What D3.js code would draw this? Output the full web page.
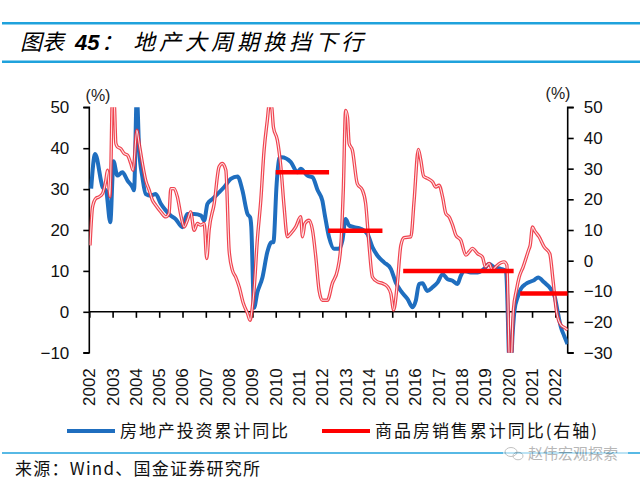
<!DOCTYPE html>
<html><head><meta charset="utf-8">
<script src="https://cdn.jsdelivr.net/npm/d3@7/dist/d3.min.js"></script>
<style>body{margin:0;background:#fff} svg{display:block}</style>
</head><body>
<svg id="c" width="640" height="485"></svg>
<script>
// ---------- data ----------
const yearLabels = ["2002","2003","2004","2005","2006","2007","2008","2009","2010","2011","2012","2013","2014","2015","2016","2017","2018","2019","2020","2021","2022"];
const leftTicks = [-10, 0, 10, 20, 30, 40, 50];
const rightTicks = [-30, -20, -10, 0, 10, 20, 30, 40, 50];

// 房地产投资累计同比 (left axis), time in decimal years
const invTime = [2002.08,2002.25,2002.57,2002.72,2002.9,2003.04,2003.2,2003.42,2003.64,2003.85,2003.92,2004.04,2004.14,2004.28,2004.42,2004.64,2004.85,2005.07,2005.28,2005.5,2005.7,2006.0,2006.2,2006.5,2006.8,2006.93,2007.07,2007.29,2007.5,2007.79,2008.07,2008.36,2008.57,2008.79,2008.9,2008.95,2009.07,2009.21,2009.43,2009.64,2009.82,2009.9,2010.04,2010.15,2010.25,2010.65,2010.93,2011.07,2011.36,2011.58,2011.8,2012.0,2012.1,2012.29,2012.5,2012.72,2012.86,2013.0,2013.15,2013.36,2013.65,2013.94,2014.15,2014.37,2014.65,2014.94,2015.15,2015.37,2015.66,2015.87,2016.01,2016.15,2016.3,2016.5,2016.73,2016.95,2017.16,2017.37,2017.59,2017.8,2017.94,2018.09,2018.37,2018.66,2018.94,2019.16,2019.37,2019.66,2019.88,2020.06,2020.17,2020.25,2020.38,2020.52,2020.73,2020.95,2021.1,2021.26,2021.52,2021.8,2021.98,2022.12,2022.24,2022.38,2022.52];
const invValue = [30.1,38.6,30.5,29.6,21.9,36.8,33.3,34.1,32.1,30.5,29.7,53,39.5,32.9,28.8,28.4,28.8,26.4,24.8,23.5,22.7,20.7,23.9,23.9,23.5,22.3,26.4,27.6,28.8,30.5,32.5,33.1,29.7,23.9,23.1,20.9,1.0,4.7,8.4,14.6,17.0,17.0,31.3,37.5,37.8,36.6,34.1,35.0,33.3,32.9,29.7,27.2,23.9,18.2,15.4,15.4,17.4,22.7,21.1,20.7,20.3,19.0,15.8,13.7,12.1,10.5,7.2,5.1,3.1,1.1,2.7,6.8,7.0,5.1,6.0,7.2,9.2,8.0,7.6,6.8,8.8,10.0,9.6,9.6,10.5,11.7,10.9,10.5,10.0,-16.3,-5.0,0.5,3.5,5.6,6.8,7.4,7.8,8.4,7.2,5.6,3.5,-0.6,-3.8,-5.9,-7.9];

// 商品房销售累计同比 (right axis)
const salesTime = [2002.03,2002.14,2002.28,2002.42,2002.57,2002.71,2002.78,2002.89,2003.0,2003.07,2003.14,2003.21,2003.35,2003.5,2003.64,2003.78,2003.88,2004.04,2004.14,2004.28,2004.42,2004.57,2004.71,2004.85,2005.07,2005.28,2005.42,2005.5,2005.64,2005.78,2005.93,2006.07,2006.21,2006.35,2006.5,2006.64,2006.78,2006.93,2007.04,2007.14,2007.36,2007.57,2007.71,2007.86,2008.0,2008.14,2008.28,2008.43,2008.61,2008.79,2008.9,2009.0,2009.07,2009.21,2009.36,2009.5,2009.64,2009.74,2009.83,2009.9,2010.07,2010.22,2010.36,2010.5,2010.65,2010.86,2011.07,2011.15,2011.25,2011.43,2011.58,2011.72,2011.86,2012.0,2012.22,2012.43,2012.65,2012.79,2012.9,2013.0,2013.08,2013.15,2013.29,2013.5,2013.72,2013.86,2014.0,2014.15,2014.37,2014.58,2014.8,2014.94,2015.06,2015.22,2015.37,2015.51,2015.8,2015.94,2016.12,2016.22,2016.35,2016.52,2016.73,2016.87,2017.01,2017.16,2017.3,2017.44,2017.59,2017.73,2017.94,2018.16,2018.3,2018.44,2018.66,2018.87,2019.0,2019.16,2019.3,2019.44,2019.66,2019.8,2019.92,2020.04,2020.1,2020.2,2020.33,2020.45,2020.62,2020.85,2020.92,2021.02,2021.1,2021.3,2021.52,2021.76,2021.9,2022.04,2022.24,2022.45,2022.52];
const salesValue = [5.0,17.5,20.3,20.8,21.9,26.2,29.5,20.8,55,52,38.2,37.1,36.5,34.9,34.4,31.7,29.5,42.5,38.2,31.7,26.2,23.0,19.7,18.1,15.9,14.3,15.4,23.5,23.5,20.8,14.8,11.0,13.2,15.9,9.9,12.1,11.6,12.1,0.7,9.9,18.6,30.6,31.7,29.5,3.4,-3.1,-5.3,-8.5,-13.9,-17.2,-19.4,-15.0,-9.6,6.7,19.7,36,45.8,52,50,43.6,39.3,30.6,17.5,7.8,8.9,11.0,14.3,7.8,12.1,13.2,9.9,1.2,-9.6,-12.9,-12.9,-7.4,-3.1,4.5,23.0,49,46.8,38.2,36,25.1,23.0,18.6,5.6,-5.3,-6.9,-7.4,-8.5,-10.7,-16.1,-7.4,5.0,7.5,7.8,19.7,36.3,33,27.5,26.8,25.7,24.0,24.6,20.8,15.4,14.3,11.6,8.3,6.7,1.8,2.9,4.0,2.3,1.2,-2.0,-0.9,-3.1,-2.0,-0.7,-0.4,-1.5,-35.9,-34,-16,-9.6,-5.3,-2.0,3.4,5.0,11.0,9.9,7.8,4.5,2.3,-6.4,-16.1,-21,-22.1,-22.6];

// 周期均值横线 (left axis)
const avgStart = [2010.0, 2012.25, 2015.47, 2020.49];
const avgEnd = [2012.29, 2014.58, 2020.21, 2022.53];
const avgValue = [34.1, 19.8, 10.0, 4.5];

// ---------- drawing ----------
const svg = d3.select("#c");
const NUM = "'Liberation Sans', Arial, sans-serif";
const CJK = "'Noto Sans CJK SC', 'Liberation Sans', sans-serif";
const BLUE = "#1F6EBF", RED = "#EE2F3C", LINEBLUE = "#1FA2DC";

const x = d3.scaleLinear().domain([2002, 2022.53]).range([89.3, 567.7]);
const yL = d3.scaleLinear().domain([-10, 50]).range([352.7, 107.3]);
const yR = d3.scaleLinear().domain([-30, 50]).range([352.7, 107.3]);

// header/footer lines
svg.append("line").attr("x1",2).attr("x2",640).attr("y1",23.3).attr("y2",23.3).attr("stroke",LINEBLUE).attr("stroke-width",2.5);
svg.append("line").attr("x1",2).attr("x2",640).attr("y1",61.7).attr("y2",61.7).attr("stroke",LINEBLUE).attr("stroke-width",2.5);
svg.append("line").attr("x1",2).attr("x2",640).attr("y1",453).attr("y2",453).attr("stroke",LINEBLUE).attr("stroke-width",1.5);

// title
const t = svg.append("text").attr("y",50).attr("font-size",22).attr("font-style","italic").attr("fill","#000");
t.append("tspan").attr("x",20).attr("font-family",CJK).text("图表");
t.append("tspan").attr("x",75).attr("font-family",NUM).attr("font-weight","bold").text("45");
t.append("tspan").attr("x",101).attr("font-family",CJK).text("：");
t.append("tspan").attr("x",133).attr("font-family",CJK).attr("textLength",230).attr("lengthAdjust","spacing").text("地产大周期换挡下行");

// clip
svg.append("clipPath").attr("id","plot").append("rect")
  .attr("x",89.3).attr("y",107.3).attr("width",567.7-89.3).attr("height",352.7-107.3);

// axes
const axL = svg.append("g").attr("transform",`translate(${x(2002)},0)`)
  .call(d3.axisLeft(yL).tickValues(leftTicks).tickSize(6).tickPadding(14).tickFormat(d3.format("d")));
const axR = svg.append("g").attr("transform",`translate(${x.range()[1]},0)`)
  .call(d3.axisRight(yR).tickValues(rightTicks).tickSize(6).tickPadding(10).tickFormat(d3.format("d")));
const axX = svg.append("g").attr("transform",`translate(0,${yL(0)})`)
  .call(d3.axisBottom(x).tickValues(yearLabels.map(Number)).tickSize(6).tickFormat(""));
[axL, axR, axX].forEach(g => {
  g.select(".domain").attr("stroke","#000").attr("stroke-width",1.6);
  g.selectAll(".tick line").attr("stroke","#000").attr("stroke-width",1.6);
  g.selectAll("text").attr("font-family",NUM).attr("font-size",17).attr("fill","#111");
});
axL.select(".domain").attr("d",`M-6,${yL(50)}H0V${yL(-10)}H-6`);
axR.select(".domain").attr("d",`M6,${yR(50)}H0V${yR(-30)}H6`);
axX.select(".domain").attr("d",`M${x(2002)},0H${x.range()[1]}`);

// year labels (rotated)
svg.append("g").selectAll("text").data(yearLabels).join("text")
  .attr("transform", d => `translate(${x(+d)},406) rotate(-90)`)
  .attr("dy","0.35em").attr("text-anchor","start")
  .attr("font-family",NUM).attr("font-size",17).attr("fill","#111").text(d => d);

// unit labels
svg.append("text").attr("x",98).attr("y",101).attr("text-anchor","middle").attr("font-family",NUM).attr("font-size",16).attr("fill","#222").text("(%)");
svg.append("text").attr("x",558).attr("y",99).attr("text-anchor","middle").attr("font-family",NUM).attr("font-size",16).attr("fill","#222").text("(%)");

// lines
const plot = svg.append("g").attr("clip-path","url(#plot)");
const invData = invTime.map((d,i)=>[d, invValue[i]]);
const salesData = salesTime.map((d,i)=>[d, salesValue[i]]);
const lineL = d3.line().x(d=>x(d[0])).y(d=>yL(d[1])).curve(d3.curveMonotoneX);
const lineR = d3.line().x(d=>x(d[0])).y(d=>yR(d[1])).curve(d3.curveMonotoneX);

plot.append("path").attr("d",lineL(invData)).attr("fill","none").attr("stroke",BLUE).attr("stroke-width",4).attr("stroke-linejoin","round");
plot.append("path").attr("d",lineR(salesData)).attr("fill","none").attr("stroke",RED).attr("stroke-opacity",0.9).attr("stroke-width",3.4).attr("stroke-linejoin","round");
plot.append("path").attr("d",lineR(salesData)).attr("fill","none").attr("stroke","#fff").attr("stroke-opacity",0.85).attr("stroke-width",1.1).attr("stroke-linejoin","round");

// average bars
plot.append("g").selectAll("line").data(avgValue).join("line")
  .attr("x1",(d,i)=>x(avgStart[i])).attr("x2",(d,i)=>x(avgEnd[i]))
  .attr("y1",d=>yL(d)).attr("y2",d=>yL(d))
  .attr("stroke","#FF0000").attr("stroke-width",4.5);

// legend
svg.append("line").attr("x1",67).attr("x2",115).attr("y1",431).attr("y2",431).attr("stroke",BLUE).attr("stroke-width",4);
svg.append("text").attr("x",120).attr("y",437).attr("font-family",CJK).attr("font-size",17).attr("textLength",168).attr("lengthAdjust","spacing").attr("fill","#111").text("房地产投资累计同比");
svg.append("line").attr("x1",322).attr("x2",370).attr("y1",431).attr("y2",431).attr("stroke","#FF0000").attr("stroke-width",4);
svg.append("text").attr("x",375).attr("y",437).attr("font-family",CJK).attr("font-size",17).attr("textLength",222).attr("lengthAdjust","spacing").attr("fill","#111").text("商品房销售累计同比(右轴)");

// source
svg.append("text").attr("x",15).attr("y",475).attr("font-family",CJK).attr("font-size",17).attr("textLength",245).attr("lengthAdjust","spacing").attr("fill","#111").text("来源：Wind、国金证券研究所");

// watermark
const wm = svg.append("g").attr("opacity",0.6);
wm.append("rect").attr("x",503).attr("y",446).attr("width",125).attr("height",16).attr("fill","#fff");
wm.append("ellipse").attr("cx",511).attr("cy",452).attr("rx",6).attr("ry",4.5).attr("fill","none").attr("stroke","#999");
wm.append("ellipse").attr("cx",518).attr("cy",456).attr("rx",5).attr("ry",3.8).attr("fill","none").attr("stroke","#999");
wm.append("text").attr("x",528).attr("y",459).attr("font-family",CJK).attr("font-size",15).attr("fill","#888").text("赵伟宏观探索");
</script>
</body></html>
